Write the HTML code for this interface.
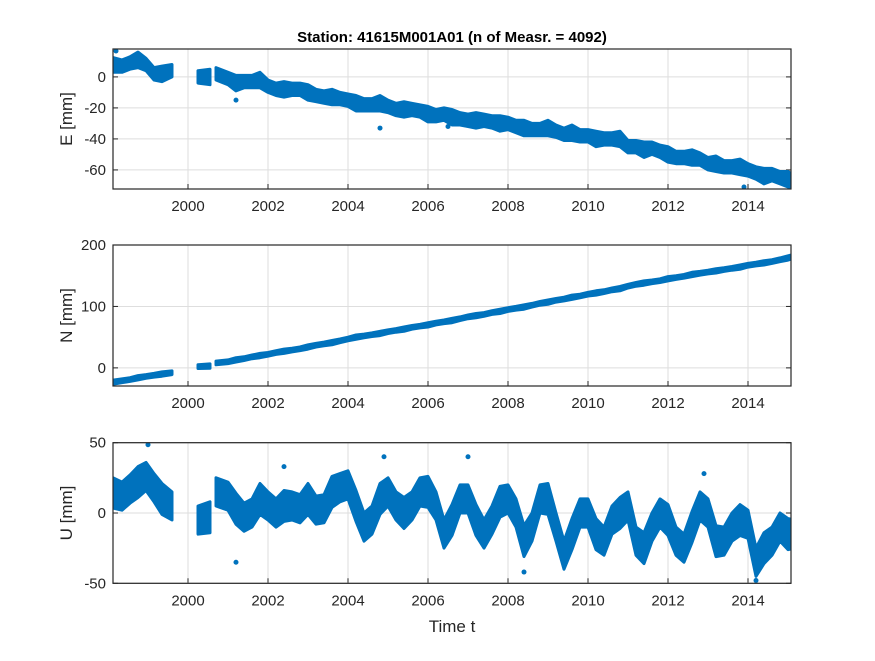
<!DOCTYPE html>
<html><head><meta charset="utf-8"><style>
body{margin:0;background:#fff;}
svg text{font-family:"Liberation Sans",Arial,sans-serif;fill:#262626;}
</style></head><body>
<svg id="fig" width="875" height="656" viewBox="0 0 875 656" xmlns="http://www.w3.org/2000/svg">
<rect width="875" height="656" fill="#fff"/>
<defs id="defs"></defs>
<text x="452" y="42" text-anchor="middle" font-size="15" font-weight="bold" style="fill:#000">Station: 41615M001A01 (n of Measr. = 4092)</text>
<g id="plots"></g>
<text x="452" y="632" text-anchor="middle" font-size="17">Time t</text>
</svg>
<script>
const T = [1998.15,1998.35,1998.55,1998.75,1998.95,1999.15,1999.35,1999.5,
2000.35,2000.45,
2000.8,2001.0,2001.2,2001.4,2001.6,2001.8,2002.0,2002.2,2002.4,2002.6,2002.8,2003.0,2003.2,2003.4,2003.6,2003.8,2004.0,2004.2,2004.4,2004.6,2004.8,2005.0,2005.2,2005.4,2005.6,2005.8,2006.0,2006.2,2006.4,2006.6,2006.8,2007.0,2007.2,2007.4,2007.6,2007.8,2008.0,2008.2,2008.4,2008.6,2008.8,2009.0,2009.2,2009.4,2009.6,2009.8,2010.0,2010.2,2010.4,2010.6,2010.8,
2011.0,2011.2,2011.4,2011.6,2011.8,2012.0,2012.2,2012.4,2012.6,2012.8,2013.0,2013.2,2013.4,2013.6,2013.8,2014.0,2014.2,2014.4,2014.6,2014.8,2015.0,2015.07];
const E = [8,7,9,11,8,2,2,4,
0,0,
2,-1,-4,-3,-3,-2,-6,-8,-8,-8,-8,-10,-12,-13,-13,-14,-15,-17,-18,-18,-17,-19,-21,-21,-21,-22,-24,-25,-24,-26,-27,-28,-28,-28,-29,-30,-30,-32,-33,-34,-34,-33,-35,-37,-36,-38,-38,-40,-40,-40,-40,
-45,-45,-47,-46,-48,-50,-52,-52,-52,-53,-56,-56,-58,-58,-58,-60,-62,-64,-63,-65,-66,-68];
const N = [-24,-21,-19,-16,-14,-12,-10,-8,
2,3,
8,10,13,15,18,20,22,25,27,29,31,34,37,39,41,44,47,50,52,54,56,59,61,63,66,68,70,73,75,77,80,83,85,87,90,92,95,97,99,102,105,107,110,112,115,117,120,122,124,127,129,
133,136,138,140,142,145,147,149,152,154,156,158,160,162,164,167,169,171,173,176,179,182];
const U = [15,12,17,22,26,18,10,5,
-5,-3,
15,12,3,-3,0,10,5,0,5,5,3,10,2,3,15,18,20,5,-10,-5,10,15,5,0,5,15,15,5,-15,-5,10,10,-5,-15,-5,8,10,0,-20,-10,10,10,-10,-30,-15,0,0,-15,-20,-5,0,
5,-20,-25,-10,0,-5,-20,-25,-10,5,0,-20,-20,-10,-5,-8,-35,-25,-20,-10,-15,-15];
const spreadE = [5,4,4];
const spreadN = [3.5,3,3];
const spreadU = [11,10,10];
const outE_t=[1998.2,2001.2,2004.8,2006.5,2013.9]; const outE_v=[17,-15,-33,-32,-72];
const outU_t=[1999.0,2001.2,2002.4,2004.9,2007.0,2008.4,2012.9,2014.2]; const outU_v=[50,-35,33,40,40,-42,28,-48];
const yTicksE=[0,-20,-40,-60], yTicksN=[0,100,200], yTicksU=[-50,0,50];
const xTicks=[2000,2002,2004,2006,2008,2010,2012,2014];

const X0=113,X1=791,t0=1998.125,t1=2015.075;
const xs=t=>X0+(t-t0)/(t1-t0)*(X1-X0);
const NS='http://www.w3.org/2000/svg';
const root=document.getElementById('plots');
const defs=document.getElementById('defs');
function mk(tag,attrs,parent){const e=document.createElementNS(NS,tag);for(const k in attrs)e.setAttribute(k,attrs[k]);(parent||root).appendChild(e);return e;}
const panels=[
 {name:'east',top:49,bot:189,ymin:-72.3,ymax:18,vals:E,sp:spreadE,ticks:yTicksE,label:'E [mm]',ot:outE_t,ov:outE_v},
 {name:'north',top:245,bot:386,ymin:-29.5,ymax:200,vals:N,sp:spreadN,ticks:yTicksN,label:'N [mm]',ot:[],ov:[]},
 {name:'up',top:442.7,bot:583.3,ymin:-50,ymax:50,vals:U,sp:spreadU,ticks:yTicksU,label:'U [mm]',ot:outU_t,ov:outU_v}
];
panels.forEach(p=>{
 const g=mk('g',{});
 
 
 const cp=mk('clipPath',{id:'clip-'+p.name},defs);
 mk('rect',{x:X0,y:p.top,width:X1-X0,height:p.bot-p.top},cp);
 const ys=v=>p.bot-(v-p.ymin)/(p.ymax-p.ymin)*(p.bot-p.top);
 const cl=v=>Math.max(p.top+1,Math.min(p.bot-1,v));
 xTicks.forEach(t=>{const l=mk('line',{x1:xs(t),x2:xs(t),y1:p.top,y2:p.bot,stroke:'#dedede','stroke-width':1},g);
  
  mk('line',{x1:xs(t),x2:xs(t),y1:p.bot,y2:p.bot-5,stroke:'#262626'},g);
  const tx=mk('text',{x:xs(t),y:p.bot+22,'text-anchor':'middle','font-size':15},g);tx.textContent=t;
  });
 p.ticks.forEach(v=>{const l=mk('line',{x1:X0,x2:X1,y1:ys(v),y2:ys(v),stroke:'#dedede'},g);
  
  mk('line',{x1:X0,x2:X0+5,y1:ys(v),y2:ys(v),stroke:'#262626'},g);
  mk('line',{x1:X1,x2:X1-5,y1:ys(v),y2:ys(v),stroke:'#262626'},g);
  const tx=mk('text',{x:X0-7,y:ys(v)+5,'text-anchor':'end','font-size':15},g);tx.textContent=v;
  });
 const cy=(p.top+p.bot)/2;
 const lab=mk('text',{x:0,y:0,'text-anchor':'middle','font-size':17,transform:`translate(72,${cy}) rotate(-90)`},g);
 lab.textContent=p.label;
 
 const dg=mk('g',{fill:'#0072BD','clip-path':'url(#clip-'+p.name+')'},g);
 
 
 const segs=[];let cur=[];
 T.forEach((t,i)=>{if(cur.length&&t-T[cur[cur.length-1]]>0.3){segs.push(cur);cur=[];}cur.push(i);});
 segs.push(cur);
 segs.forEach(sg=>{
  const up=[],lo=[];
  const pad=sg.length>1?4:6;
  sg.forEach((i,k)=>{
   const s=p.sp[i%p.sp.length];
   let x=xs(T[i]);if(k===0)x-=pad;if(k===sg.length-1)x+=pad;
   if(sg.length===1){up.push([x-2*pad,cl(ys(p.vals[i]+s))]);lo.push([x-2*pad,cl(ys(p.vals[i]-s))]);}
   up.push([x,cl(ys(p.vals[i]+s))]);lo.push([x,cl(ys(p.vals[i]-s))]);
  });
  const pts=up.concat(lo.reverse()).map(q=>q[0].toFixed(1)+','+q[1].toFixed(1)).join(' ');
  const pg=mk('polygon',{points:pts,stroke:'#0072BD','stroke-width':3,'stroke-linejoin':'round'},dg);
  
  
 });
 p.ot.forEach((t,i)=>{const c=mk('circle',{cx:xs(t),cy:Math.max(p.top+2,Math.min(p.bot-2,ys(p.ov[i]))),r:2.5},dg);
  });
 const b=mk('rect',{x:X0,y:p.top,width:X1-X0,height:p.bot-p.top,fill:'none',stroke:'#262626','stroke-width':1.2},g);
 
});
</script>
</body></html>
